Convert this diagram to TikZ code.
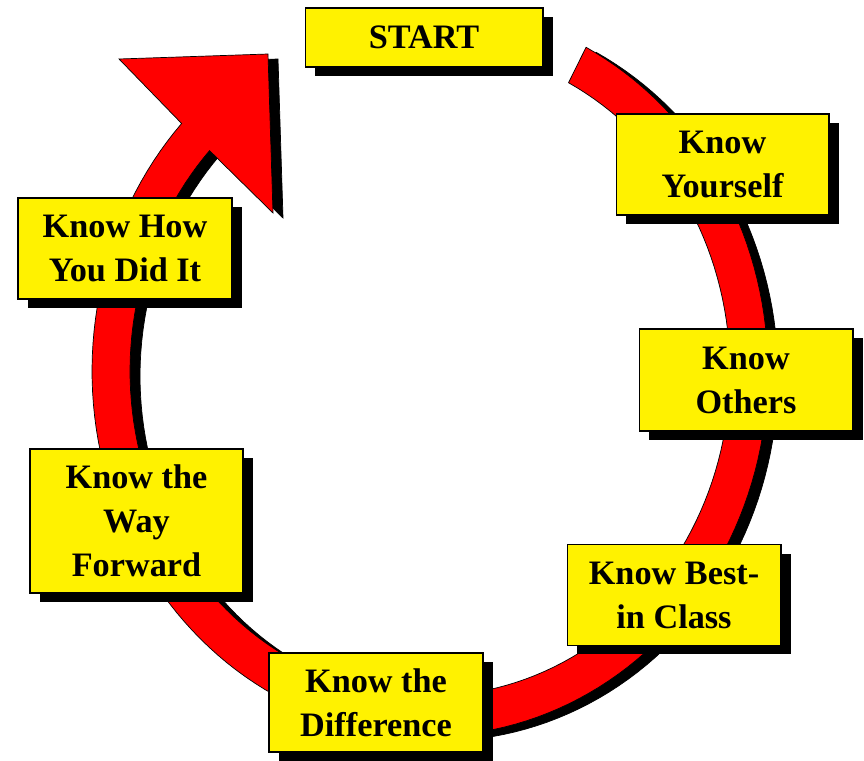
\documentclass[tikz,border=0pt]{standalone}
\usepackage{fontspec}
\setmainfont{Liberation Serif}
\usetikzlibrary{shadows}

\begin{document}
\begin{tikzpicture}[x=0.02cm,y=-0.02cm,
  box/.style={draw=black, line width=0.6pt, fill=yellow, align=center,
    inner sep=2pt, font=\bfseries\fontsize{19.5}{25}\selectfont,
    drop shadow={shadow xshift=0.2cm, shadow yshift=-0.18cm, fill=black, opacity=1}}]
  \useasboundingbox (0,0) rectangle (864,760);
  \foreach \s/\c in {10/black,0/red}
  \filldraw[fill=\c, draw=black, line width=0.4pt, shift={(\s,\s/2)}]
  plot[domain=62.5:-222.7,samples=150]({430+338*cos(\x)},{371-365*sin(\x)})
  --(119,59)--(268,54)--(273,213)--
  plot[domain=-222.7:62.5,samples=150]({430+300*cos(\x)},{371-325*sin(\x)})
  -- cycle;
  \node[box, minimum width=4.76cm, minimum height=1.18cm] (start) at (424,37.5) {START};
  \node[box, minimum width=4.26cm, minimum height=2.02cm] (self) at (722.5,164.5) {Know\\Yourself};
  \node[box, minimum width=4.28cm, minimum height=2.04cm] (others) at (746,380) {Know\\Others};
  \node[box, minimum width=4.28cm, minimum height=2.02cm] (best) at (674,595) {Know Best-\\in Class};
  \node[box, minimum width=4.28cm, minimum height=1.98cm] (diff) at (376,702.5) {Know the\\Difference};
  \node[box, minimum width=4.26cm, minimum height=2.88cm] (way) at (136.5,521) {Know the\\Way\\Forward};
  \node[box, minimum width=4.28cm, minimum height=2.02cm] (how) at (125,248.5) {Know How\\You Did It};
\end{tikzpicture}
\end{document}
